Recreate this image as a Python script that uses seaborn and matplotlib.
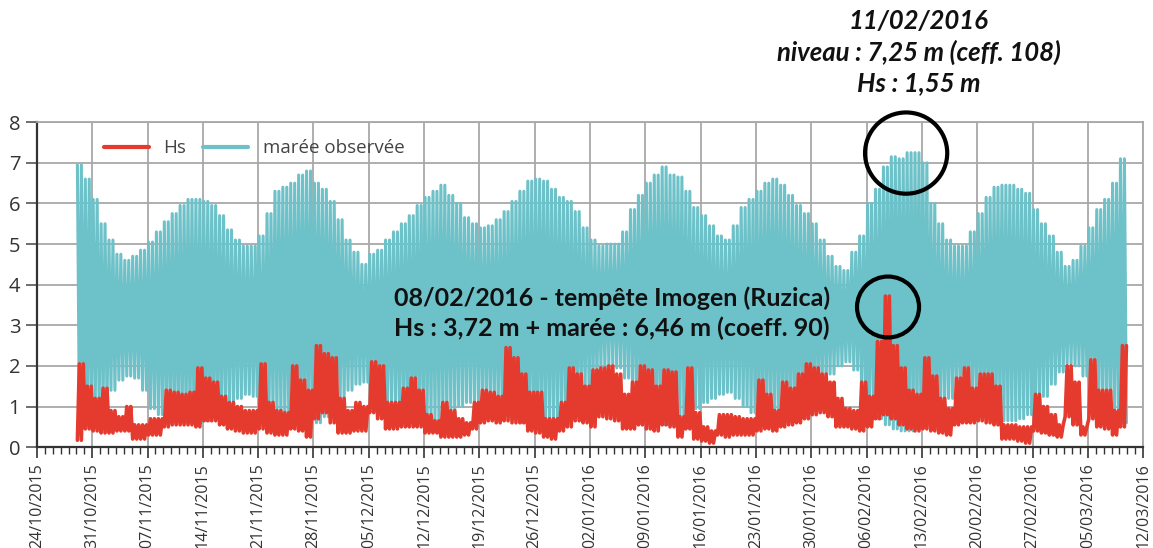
import numpy as np
import pandas as pd
import matplotlib
matplotlib.use("Agg")
import matplotlib.pyplot as plt
import matplotlib.dates as mdates
from matplotlib.lines import Line2D
from matplotlib.patches import Ellipse
import seaborn as sns

# -----------------------------------------------------------
# Data: one value per day, 29/10/2015 -> 09/03/2016
# -----------------------------------------------------------
first_day = "2015-10-29"

# high water level of the day (m)
high_water = [
    6.95, 6.6, 6.1, 5.5, 5.1, 4.75, 4.6, 4.7, 4.85, 5.05,
    5.3, 5.55, 5.75, 5.95, 6.1, 6.1, 6.05, 5.95, 5.7, 5.35,
    5.1, 4.95, 4.95, 5.2, 5.75, 6.3, 6.4, 6.5, 6.7, 6.8,
    6.5, 6.35, 6.05, 5.6, 5.1, 4.8, 4.5, 4.75, 4.85, 5.1,
    5.3, 5.5, 5.7, 5.95, 6.15, 6.3, 6.45, 6.2, 6.0, 5.65,
    5.5, 5.4, 5.45, 5.6, 5.8, 6.05, 6.3, 6.55, 6.6, 6.55,
    6.35, 6.15, 6.05, 5.8, 5.4, 5.1, 4.95, 5.0, 5.0, 5.3,
    5.85, 6.2, 6.5, 6.7, 6.9, 6.7, 6.65, 6.3, 5.9, 5.7,
    5.45, 5.2, 5.1, 5.45, 5.9, 6.1, 6.3, 6.5, 6.6, 6.45,
    6.2, 5.95, 5.75, 5.5, 5.1, 4.7, 4.45, 4.35, 4.8, 5.2,
    6.0, 6.35, 6.9, 7.15, 7.1, 7.25, 7.25, 7.0, 6.0, 5.5,
    5.1, 4.95, 4.95, 5.3, 5.75, 6.15, 6.4, 6.45, 6.45, 6.35,
    6.25, 5.85, 5.5, 5.2, 4.8, 4.45, 4.6, 4.95, 5.4, 5.85,
    6.1, 6.5, 7.1,
]

# low water level of the day (m)
low_water = [
    0.75, 0.75, 0.9, 1.0, 1.4, 1.65, 1.75, 1.7, 1.4, 0.95,
    0.8, 0.75, 0.7, 0.65, 0.6, 0.6, 0.65, 0.75, 0.9, 1.1,
    1.2, 1.3, 1.25, 1.0, 0.8, 0.65, 0.6, 0.55, 0.5, 0.5,
    0.6, 0.75, 0.85, 1.1, 1.4, 1.55, 1.6, 1.5, 1.3, 1.1,
    0.95, 0.85, 0.75, 0.7, 0.65, 0.65, 0.7, 0.85, 1.0, 1.1,
    1.1, 1.05, 1.0, 0.9, 0.8, 0.7, 0.6, 0.55, 0.5, 0.5,
    0.6, 0.75, 0.9, 1.1, 1.4, 1.6, 1.9, 2.0, 1.95, 1.7,
    1.3, 0.95, 0.75, 0.6, 0.55, 0.55, 0.6, 0.75, 0.95, 1.1,
    1.2, 1.3, 1.35, 1.2, 1.0, 0.85, 0.7, 0.65, 0.6, 0.65,
    0.75, 0.9, 1.1, 1.3, 1.55, 1.8, 2.0, 2.1, 1.9, 1.3,
    0.9, 0.7, 0.55, 0.45, 0.4, 0.4, 0.45, 0.55, 0.75, 1.0,
    1.2, 1.3, 1.3, 1.15, 0.95, 0.8, 0.7, 0.65, 0.65, 0.7,
    0.8, 1.0, 1.25, 1.55, 1.85, 2.05, 2.0, 1.75, 1.4, 1.1,
    0.9, 0.75, 0.6,
]

# significant wave height Hs, daily max / min (m)
hs_max = [
    2.05, 1.5, 1.2, 1.45, 0.9, 0.75, 1.0, 0.55, 0.55, 0.7,
    0.7, 1.4, 1.35, 1.3, 1.35, 1.95, 1.7, 1.6, 1.25, 1.1,
    1.0, 0.9, 0.9, 2.05, 1.1, 0.9, 0.85, 2.0, 1.65, 1.4,
    2.5, 2.3, 2.2, 1.2, 0.9, 1.1, 1.0, 2.1, 2.0, 1.1,
    1.1, 1.45, 1.7, 1.4, 0.8, 0.65, 1.1, 0.9, 0.7, 0.6,
    1.1, 1.4, 1.35, 1.25, 2.45, 2.2, 1.8, 1.35, 1.35, 0.7,
    0.7, 1.1, 1.95, 1.8, 1.5, 1.9, 1.95, 2.0, 1.8, 1.3,
    1.6, 2.0, 1.9, 1.5, 1.9, 1.85, 0.75, 1.95, 0.85, 0.5,
    0.4, 0.8, 0.8, 0.75, 0.7, 0.7, 1.65, 1.3, 0.9, 1.6,
    1.45, 1.8, 2.05, 1.95, 1.8, 1.6, 1.2, 0.95, 0.9, 1.6,
    1.25, 2.6, 3.72, 2.5, 1.95, 1.4, 1.3, 2.2, 1.75, 1.2,
    0.95, 1.7, 1.95, 1.45, 1.8, 1.8, 1.5, 0.55, 0.55, 0.5,
    0.5, 1.3, 1.0, 0.8, 0.55, 2.0, 1.6, 0.5, 2.15, 1.4,
    1.4, 0.9, 2.5,
]
hs_min = [
    0.17, 0.45, 0.4, 0.35, 0.35, 0.4, 0.4, 0.2, 0.2, 0.3,
    0.3, 0.5, 0.55, 0.55, 0.55, 0.5, 0.65, 0.65, 0.55, 0.45,
    0.4, 0.35, 0.35, 0.45, 0.35, 0.3, 0.3, 0.45, 0.4, 0.25,
    0.7, 0.85, 0.6, 0.35, 0.35, 0.4, 0.4, 0.85, 0.7, 0.45,
    0.45, 0.5, 0.5, 0.5, 0.35, 0.35, 0.25, 0.25, 0.25, 0.3,
    0.45, 0.6, 0.65, 0.6, 0.65, 0.6, 0.6, 0.4, 0.35, 0.25,
    0.2, 0.4, 0.5, 0.65, 0.6, 0.5, 0.75, 0.7, 0.65, 0.45,
    0.45, 0.55, 0.45, 0.4, 0.55, 0.5, 0.25, 0.45, 0.2, 0.15,
    0.1, 0.3, 0.25, 0.3, 0.3, 0.3, 0.4, 0.45, 0.4, 0.5,
    0.55, 0.6, 0.7, 0.8, 0.85, 0.75, 0.5, 0.5, 0.45, 0.4,
    0.5, 0.7, 0.8, 0.7, 0.55, 0.45, 0.4, 0.45, 0.4, 0.35,
    0.3, 0.55, 0.6, 0.6, 0.65, 0.6, 0.55, 0.2, 0.2, 0.15,
    0.1, 0.4, 0.35, 0.3, 0.25, 0.75, 0.55, 0.3, 0.7, 0.5,
    0.45, 0.3, 0.5,
]

x_start, x_end = "2015-10-24", "2016-03-12"

storm_text = "08/02/2016 - tempête Imogen (Ruzica)\nHs : 3,72 m + marée : 6,46 m (coeff. 90)"
peak_text = "11/02/2016\nniveau : 7,25 m (ceff. 108)\nHs : 1,55 m"

c_tide = "#6dc1c8"
c_hs = "#e53a2e"

# -----------------------------------------------------------
# Build long series: two tides a day (HW, LW, HW, LW)
# -----------------------------------------------------------
days = pd.date_range(first_day, periods=len(high_water), freq="D")
hours = [3, 9, 15, 21]

tide_rows, hs_rows = [], []
for d, hw, lw, hmax, hmin in zip(days, high_water, low_water, hs_max, hs_min):
    for h, tv, hv in zip(hours, (hw, lw, hw, lw), (hmin, hmax, hmin, hmax)):
        t = d + pd.Timedelta(hours=h)
        tide_rows.append((t, tv))
        hs_rows.append((t, hv))

tide_df = pd.DataFrame(tide_rows, columns=["time", "value"])
hs_df = pd.DataFrame(hs_rows, columns=["time", "value"])

# -----------------------------------------------------------
# Plot
# -----------------------------------------------------------
sns.set_theme(style="white")
plt.rcParams["font.family"] = ["Open Sans", "DejaVu Sans"]

fig = plt.figure(figsize=(11.53, 5.48), dpi=100)
ax = fig.add_axes([0.032, 0.184, 0.9595, 0.593])

sns.lineplot(data=tide_df, x="time", y="value", color=c_tide, lw=2.2,
             estimator=None, ax=ax)
sns.lineplot(data=hs_df, x="time", y="value", color=c_hs, lw=2.6,
             estimator=None, ax=ax)

ax.set_xlim(pd.Timestamp(x_start), pd.Timestamp(x_end))
ax.set_ylim(0, 8)
ax.set_xlabel("")
ax.set_ylabel("")

major = pd.date_range(x_start, x_end, freq="7D")
ax.set_xticks(major)
ax.xaxis.set_minor_locator(mdates.DayLocator())
ax.xaxis.set_major_formatter(mdates.DateFormatter("%d/%m/%Y"))
ax.set_yticks(range(0, 9))

ax.tick_params(axis="x", which="major", length=8, width=1.2, color="#333333",
               labelsize=11.5, labelcolor="#333333", rotation=90, bottom=True)
ax.tick_params(axis="x", which="minor", length=5, width=1.0, color="#333333", bottom=True)
ax.tick_params(axis="y", length=8, width=1.2, color="#555555", labelsize=14.5,
               labelcolor="#333333", left=True, pad=4)

ax.grid(True, which="major", color="#a8a8a8", lw=1.3)
ax.set_axisbelow(True)
for s in ["left", "bottom"]:
    ax.spines[s].set_color("#333333")
    ax.spines[s].set_linewidth(1.6)
for s in ["top", "right"]:
    ax.spines[s].set_color("#a8a8a8")
    ax.spines[s].set_linewidth(1.3)

handles = [Line2D([], [], color=c_hs, lw=3), Line2D([], [], color=c_tide, lw=3)]
ax.legend(handles, ["Hs", "marée observée"], loc="upper left",
          bbox_to_anchor=(0.045, 1.0), ncol=2, frameon=False,
          fontsize=13.5, handlelength=2.4, columnspacing=0.9,
          labelcolor="#444444")

# circles around the two events
peak_c = mdates.date2num(pd.Timestamp("2016-02-11 00:00"))
storm_c = mdates.date2num(pd.Timestamp("2016-02-08 17:00"))
ax.add_patch(Ellipse((peak_c, 7.24), 10.4, 2.0, fill=False, ec="black", lw=3.0,
                     zorder=5, clip_on=False))
ax.add_patch(Ellipse((storm_c, 3.45), 7.85, 1.5, fill=False, ec="black", lw=3.0,
                     zorder=5))

fig.text(0.531, 0.428, storm_text, ha="center", va="center", fontsize=18,
         fontweight="bold", family=["Lato", "DejaVu Sans"], color="#111111",
         linespacing=1.35)
fig.text(0.797, 0.905, peak_text, ha="center", va="center", fontsize=18.5,
         fontweight="bold", fontstyle="italic", family=["Lato", "DejaVu Sans"],
         color="#111111", linespacing=1.3)

fig.savefig("out.png", dpi=100)
